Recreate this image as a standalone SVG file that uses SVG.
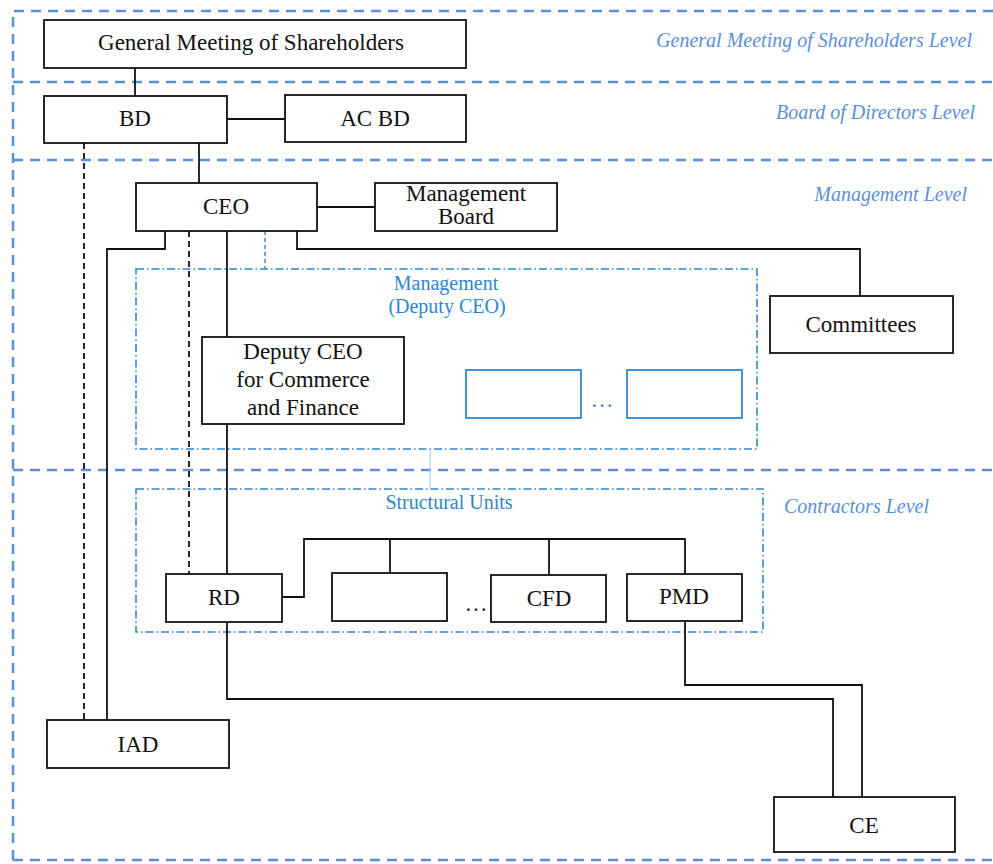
<svg xmlns="http://www.w3.org/2000/svg" width="993" height="864" viewBox="0 0 993 864">
<style>
.lvl{fill:none;stroke:#5b8fd8;stroke-width:2.5;stroke-dasharray:10 7}
.grp{fill:none;stroke:#2f85d0;stroke-width:1.6;stroke-dasharray:8 3 1.5 3}
.box{fill:#fff;stroke:#111;stroke-width:1.8}
.bbox{fill:#fff;stroke:#2f85d0;stroke-width:1.8}
.t{font-family:'Liberation Serif','Times New Roman',serif;font-size:23px;fill:#111;text-anchor:middle}
.lt{font-family:'Liberation Serif','Times New Roman',serif;font-size:20px;font-style:italic;fill:#5b8fd8;text-anchor:end}
.bt{font-family:'Liberation Serif','Times New Roman',serif;font-size:20px;fill:#2f85d0;text-anchor:middle}
.c{fill:none;stroke:#111;stroke-width:1.8}
.cd{fill:none;stroke:#111;stroke-width:1.8;stroke-dasharray:6 4}
</style>
<rect width="993" height="864" fill="#fff"/>
<g id="levels">
<path class="lvl" d="M13,860 V11 H993"/>
<line class="lvl" x1="13" y1="82" x2="993" y2="82"/>
<line class="lvl" x1="13" y1="160" x2="993" y2="160"/>
<line class="lvl" x1="13" y1="470" x2="993" y2="470"/>
<line class="lvl" x1="13" y1="860" x2="993" y2="860"/>
<text class="lt" x="972" y="47">General Meeting of Shareholders Level</text>
<text class="lt" x="975" y="119">Board of Directors Level</text>
<text class="lt" x="967" y="201">Management Level</text>
<text class="lt" x="929" y="513">Contractors Level</text>
</g>
<g id="management-group">
<rect class="grp" x="136" y="269" width="621" height="180"/>
<text class="bt" x="446" y="290">Management</text>
<text class="bt" x="447" y="313">(Deputy CEO)</text>
</g>
<g id="structural-units">
<rect class="grp" x="136" y="489" width="627" height="143"/>
<text class="bt" x="449" y="509">Structural Units</text>
</g>
<g id="connectors">
<line class="c" x1="135" y1="68" x2="135" y2="96"/>
<line class="c" x1="227" y1="119" x2="285" y2="119"/>
<line class="c" x1="199" y1="143" x2="199" y2="183"/>
<line class="cd" x1="84" y1="143" x2="84" y2="720"/>
<line class="c" x1="317" y1="207" x2="375" y2="207"/>
<path class="c" d="M165,231 V249 H107 V720"/>
<line class="cd" x1="189" y1="231" x2="189" y2="574"/>
<line class="c" x1="227" y1="231" x2="227" y2="337"/>
<line x1="265" y1="231" x2="265" y2="269" stroke="#2f85d0" stroke-width="1.4" stroke-dasharray="4 3"/>
<path class="c" d="M297,231 V249 H860 V296"/>
<line class="c" x1="227" y1="424" x2="227" y2="574"/>
<line x1="430" y1="449" x2="430" y2="489" stroke="#9cc3ea" stroke-width="1"/>
<path class="c" d="M282,597 H304 V539 H685 V574"/>
<line class="c" x1="390" y1="539" x2="390" y2="573"/>
<line class="c" x1="549" y1="539" x2="549" y2="575"/>
<path class="c" d="M227,622 V699 H833 V797"/>
<path class="c" d="M685,621 V685 H862 V797"/>
</g>
<g id="gms"><rect class="box" x="44" y="20" width="422" height="48"/><text class="t" x="251" y="50">General Meeting of Shareholders</text></g>
<g id="bd"><rect class="box" x="44" y="96" width="183" height="47"/><text class="t" x="135" y="126">BD</text></g>
<g id="acbd"><rect class="box" x="285" y="95" width="181" height="47"/><text class="t" x="375" y="126">AC BD</text></g>
<g id="ceo"><rect class="box" x="136" y="183" width="181" height="48"/><text class="t" x="226" y="214">CEO</text></g>
<g id="mboard"><rect class="box" x="375" y="183" width="182" height="48"/><text class="t" x="466" y="201">Management</text><text class="t" x="466" y="224">Board</text></g>
<g id="committees"><rect class="box" x="770" y="296" width="183" height="57"/><text class="t" x="861" y="332">Committees</text></g>
<g id="deputy"><rect class="box" x="202" y="337" width="202" height="87"/><text class="t" x="303" y="359">Deputy CEO</text><text class="t" x="303" y="387">for Commerce</text><text class="t" x="303" y="415">and Finance</text></g>
<g id="blue1"><rect class="bbox" x="466" y="370" width="115" height="48"/></g>
<text x="602" y="407" style="font-family:'Liberation Serif',serif;font-size:23px" fill="#2f85d0" text-anchor="middle">…</text>
<g id="blue2"><rect class="bbox" x="627" y="370" width="115" height="48"/></g>
<g id="rd"><rect class="box" x="166" y="574" width="116" height="48"/><text class="t" x="224" y="605">RD</text></g>
<g id="blank"><rect class="box" x="332" y="573" width="115" height="48"/></g>
<text x="476" y="611" style="font-family:'Liberation Serif',serif;font-size:23px" fill="#111" text-anchor="middle">…</text>
<g id="cfd"><rect class="box" x="491" y="575" width="115" height="47"/><text class="t" x="549" y="606">CFD</text></g>
<g id="pmd"><rect class="box" x="627" y="574" width="115" height="47"/><text class="t" x="684" y="604">PMD</text></g>
<g id="iad"><rect class="box" x="47" y="720" width="182" height="48"/><text class="t" x="138" y="752">IAD</text></g>
<g id="ce"><rect class="box" x="774" y="797" width="181" height="55"/><text class="t" x="864" y="833">CE</text></g>
</svg>
